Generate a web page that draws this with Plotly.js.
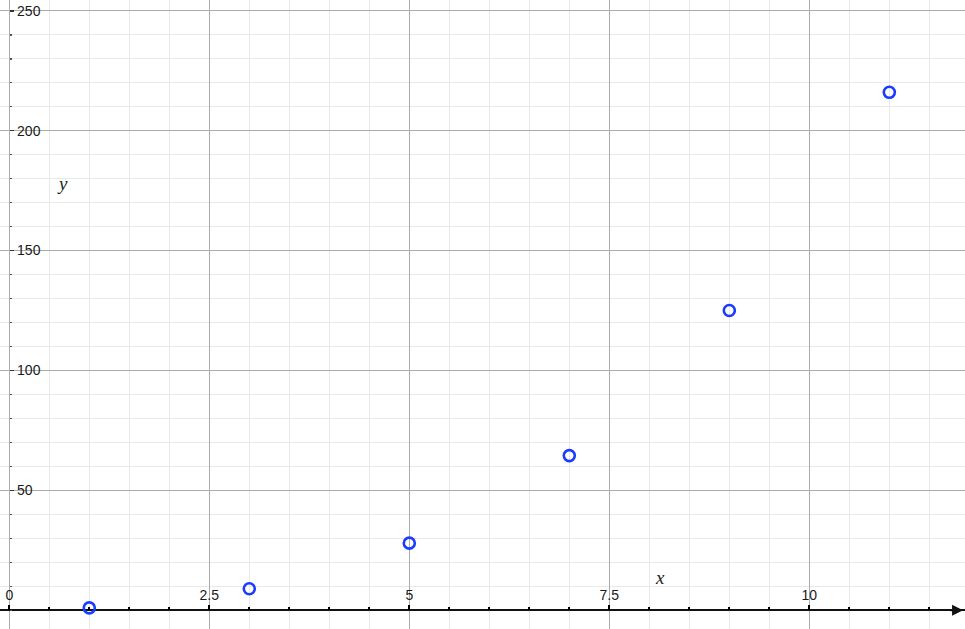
<!DOCTYPE html>
<html>
<head>
<meta charset="utf-8">
<script src="https://cdn.plot.ly/plotly-3.0.1.min.js"></script>
<style>html,body{margin:0;padding:0;background:#fff;}#chart{width:965px;height:629px;}</style>
</head>
<body>
<div id="chart"></div>
<script>
const xValues = [1, 3, 5, 7, 9, 11];
const yValues = [1, 9, 28, 64.5, 125, 216];
const xTickVals = [0, 2.5, 5, 7.5, 10];
const xTickText = ['0', '2.5', '5', '7.5', '10'];
const yTickVals = [50, 100, 150, 200, 250];
const yTickText = ['50', '100', '150', '200', '250'];

const xRange = [-0.116, 11.946];
const yRange = [-7.8, 254.5];
const xAxisPos = (0 - yRange[0]) / (yRange[1] - yRange[0]);
const yAxisPos = (0 - xRange[0]) / (xRange[1] - xRange[0]);

const majorGrid = '#acacac';
const minorGrid = '#e9e9e9';
const tickFont = {family: 'Liberation Sans, Arial, sans-serif', size: 14, color: '#1a1a1a'};

const data = [{
  type: 'scatter',
  mode: 'markers',
  x: xValues,
  y: yValues,
  marker: {symbol: 'circle-open', size: 11, color: '#1a3cff', line: {width: 2.6, color: '#1a3cff'}},
  hoverinfo: 'x+y',
  cliponaxis: false
}];

const layout = {
  width: 965, height: 629,
  margin: {l: 0, r: 0, t: 0, b: 0, pad: 0},
  paper_bgcolor: '#fff', plot_bgcolor: '#fff',
  showlegend: false,
  xaxis: {
    range: xRange, autorange: false,
    anchor: 'free', position: xAxisPos, side: 'top',
    tickmode: 'array', tickvals: xTickVals, ticktext: xTickText,
    ticks: 'outside', ticklen: 5, tickwidth: 2, tickcolor: '#000',
    showline: false, zeroline: false,
    showgrid: true, gridcolor: majorGrid, gridwidth: 1,
    tickfont: tickFont,
    minor: {dtick: 0.5, tick0: 0, showgrid: true, gridcolor: minorGrid, gridwidth: 1, ticks: 'outside', ticklen: 3, tickwidth: 2, tickcolor: '#000'}
  },
  xaxis2: {
    range: xRange, autorange: false, overlaying: 'x', matches: 'x',
    anchor: 'free', position: xAxisPos, side: 'bottom',
    tickmode: 'array', tickvals: xTickVals, showticklabels: false,
    ticks: 'outside', ticklen: 5, tickwidth: 2, tickcolor: '#000',
    showline: false, zeroline: false, showgrid: false,
    minor: {dtick: 0.5, tick0: 0, showgrid: false, ticks: 'outside', ticklen: 3, tickwidth: 2, tickcolor: '#000'}
  },
  yaxis: {
    range: yRange, autorange: false,
    anchor: 'free', position: yAxisPos, side: 'right',
    tickmode: 'array', tickvals: yTickVals, ticktext: yTickText,
    ticks: 'outside', ticklen: 4, tickwidth: 1.5, tickcolor: '#333',
    showline: false,
    zeroline: true, zerolinecolor: '#111', zerolinewidth: 2,
    showgrid: true, gridcolor: majorGrid, gridwidth: 1,
    tickfont: tickFont,
    minor: {dtick: 10, tick0: 0, showgrid: true, gridcolor: minorGrid, gridwidth: 1, ticks: 'outside', ticklen: 2, tickwidth: 1.5, tickcolor: '#555'}
  },
  annotations: [
    {xref: 'paper', yref: 'y', x: 0.998, y: 0, ax: -14, ay: 0, axref: 'pixel', ayref: 'pixel',
     text: '', showarrow: true, arrowhead: 2, arrowsize: 1.1, arrowwidth: 2, arrowcolor: '#111'},
    {xref: 'x', yref: 'y', x: 8.13, y: 13.5, text: 'x', showarrow: false,
     font: {family: 'Liberation Serif, Times New Roman, serif', size: 19, color: '#222', style: 'italic'}},
    {xref: 'x', yref: 'y', x: 0.66, y: 177.8, text: 'y', showarrow: false,
     font: {family: 'Liberation Serif, Times New Roman, serif', size: 19, color: '#222', style: 'italic'}}
  ]
};

Plotly.newPlot('chart', data, layout, {displayModeBar: false, staticPlot: true});
</script>
</body>
</html>
